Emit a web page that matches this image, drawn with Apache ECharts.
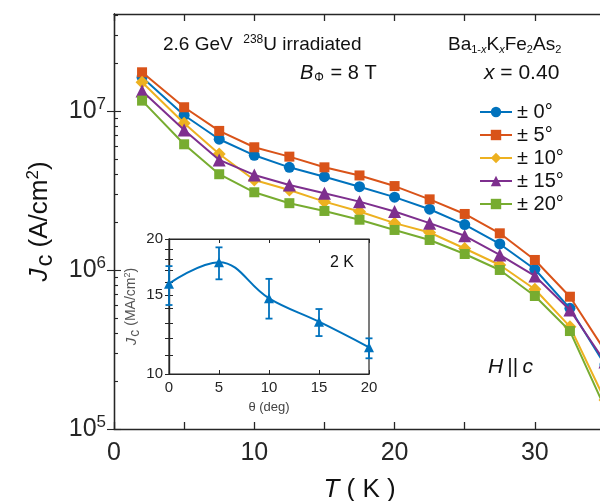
<!DOCTYPE html>
<html><head><meta charset="utf-8">
<script src="https://cdn.jsdelivr.net/npm/echarts@6/dist/echarts.min.js"></script>
<style>html,body{margin:0;padding:0;background:#fff}#c{width:600px;height:501px}</style>
</head><body><div id="c"></div>
<script>
// ---- data ----
const T = [2, 5, 7.5, 10, 12.5, 15, 17.5, 20, 22.5, 25, 27.5, 30, 32.5, 35];
const JC_0  = [1.63e7, 9.4e6, 6.64e6, 5.26e6, 4.42e6, 3.86e6, 3.34e6, 2.87e6, 2.41e6, 1.93e6, 1.457e6, 1.01e6, 5.74e5, 2.53e5];
const JC_5  = [1.75e7, 1.055e7, 7.49e6, 5.91e6, 5.16e6, 4.42e6, 3.93e6, 3.37e6, 2.78e6, 2.25e6, 1.70e6, 1.156e6, 6.79e5, 3.10e5];
const JC_10 = [1.515e7, 8.37e6, 5.36e6, 3.68e6, 3.18e6, 2.69e6, 2.33e6, 1.97e6, 1.72e6, 1.365e6, 1.075e6, 7.56e5, 4.40e5, 1.52e5];
const JC_15 = [1.336e7, 7.59e6, 4.92e6, 3.96e6, 3.42e6, 3.04e6, 2.69e6, 2.33e6, 1.97e6, 1.64e6, 1.243e6, 9.17e5, 5.60e5, 2.64e5];
const JC_20 = [1.161e7, 6.17e6, 4.0e6, 3.08e6, 2.63e6, 2.35e6, 2.07e6, 1.785e6, 1.544e6, 1.26e6, 1.0e6, 6.86e5, 4.13e5, 1.355e5];
const SERIES_NAMES = ['± 0°', '± 5°', '± 10°', '± 15°', '± 20°'];
const X_LABELS = [0, 10, 20, 30];
const Y_MAJOR = [1e5, 1e6, 1e7];
const Y_MINOR = [2e5, 3e5, 4e5, 5e5, 6e5, 7e5, 8e5, 9e5, 2e6, 3e6, 4e6, 5e6, 6e6, 7e6, 8e6, 9e6, 2e7, 3e7, 4e7];

const INSET_THETA = [0, 5, 10, 15, 20];
const INSET_JC = [15.9, 17.75, 14.75, 13.08, 11.47];
const INSET_ERR_LOW = [14.25, 16.26, 13.29, 12.15, 10.84];
const INSET_ERR_HIGH = [17.4, 19.16, 16.3, 13.96, 12.01];
const INSET_Y_LABELS = [10, 15, 20];
const INSET_Y_TICKS = [10, 11, 12, 13, 14, 15, 16, 17, 18, 19, 20];

// ---- style ----
const FONT = 'Liberation Sans, Arial, Helvetica, sans-serif';
const AX = '#262626';
const COLORS = ['#0072BD', '#D95319', '#EDB120', '#7E2F8E', '#77AC30'];
const SYMBOLS = ['circle', 'rect', 'diamond', 'triangle', 'rect'];
const SYM_SIZE = [11, 10, 13, 13, 10];
const ALL = [JC_0, JC_5, JC_10, JC_15, JC_20];

const chart = echarts.init(document.getElementById('c'), null, {renderer: 'canvas'});

function xAxisMain(pos) {
  return {
    type: 'value', gridIndex: 0, position: pos, min: 0, max: 35, interval: 5,
    axisLine: {show: true, onZero: false, lineStyle: {color: AX, width: 1.3}},
    axisTick: {show: true, inside: true, length: 7, lineStyle: {color: AX, width: 1.3}},
    axisLabel: {show: pos === 'bottom', fontSize: 25, fontFamily: FONT, color: AX, margin: 12,
      formatter: v => X_LABELS.indexOf(v) >= 0 ? String(v) : ''},
    splitLine: {show: false},
    name: pos === 'bottom' ? '{i|T} ( K )' : '', nameLocation: 'middle', nameGap: 48,
    nameTextStyle: {fontSize: 26, fontFamily: FONT, color: '#111', rich: {i: {fontSize: 26, fontStyle: 'italic', fontFamily: FONT}}}
  };
}
function yAxisMain(pos, ticks, len, labels) {
  return {
    type: 'log', logBase: 10, gridIndex: 0, position: pos, min: 1e5, max: 4.07e7,
    axisLine: {show: true, lineStyle: {color: AX, width: 1.3}},
    axisTick: {show: true, inside: true, length: len, customValues: ticks, lineStyle: {color: AX, width: 1.1}},
    axisLabel: {show: labels, customValues: Y_MAJOR, margin: 8, fontFamily: FONT, color: AX,
      formatter: v => '{b|10}{s|' + Math.round(Math.log10(v)) + '}',
      rich: {b: {fontSize: 25, fontFamily: FONT, color: AX}, s: {fontSize: 17, fontFamily: FONT, color: AX, padding: [0, 0, 14, 0]}}},
    splitLine: {show: false},
    name: labels ? '{i|J}{sub|c} (A/cm{sup|2})' : '', nameLocation: 'middle', nameGap: 52, nameRotate: 90,
    nameTextStyle: {fontSize: 26, fontFamily: FONT, color: '#111',
      rich: {i: {fontSize: 26, fontStyle: 'italic', fontFamily: FONT, color: '#111'},
             sub: {fontSize: 24, fontFamily: FONT, color: '#111', padding: [12, 0, 0, 2]},
             sup: {fontSize: 17, fontFamily: FONT, color: '#111', padding: [0, 0, 14, 0]}}}
  };
}

const mainSeries = ALL.map((arr, k) => ({
  name: SERIES_NAMES[k], type: 'line', xAxisIndex: 0, yAxisIndex: 0,
  data: T.map((t, i) => [t, arr[i]]),
  symbol: SYMBOLS[k], symbolSize: SYM_SIZE[k],
  lineStyle: {color: COLORS[k], width: 2}, itemStyle: {color: COLORS[k]},
  z: 3 + k, animation: false
}));

const option = {
  backgroundColor: '#fff',
  animation: false,
  grid: [
    {left: 114, top: 14, width: 491, height: 415, containLabel: false, outerBoundsMode: 'none'},
    {left: 169, top: 239, width: 200, height: 135, show: true, backgroundColor: '#fff', borderColor: AX, borderWidth: 1.2, z: 10, outerBoundsMode: 'none'}
  ],
  xAxis: [
    xAxisMain('bottom'), xAxisMain('top'),
    {type: 'value', gridIndex: 1, position: 'bottom', min: 0, max: 20, interval: 5, z: 11,
     axisLine: {show: true, onZero: false, lineStyle: {color: AX, width: 1.2}},
     axisTick: {show: true, inside: true, length: 4, lineStyle: {color: AX}},
     axisLabel: {fontSize: 15, fontFamily: FONT, color: AX, margin: 6},
     splitLine: {show: false},
     name: 'θ (deg)', nameLocation: 'middle', nameGap: 27,
     nameTextStyle: {fontSize: 13, fontFamily: FONT, color: '#444'}},
    {type: 'value', gridIndex: 1, position: 'top', min: 0, max: 20, interval: 5, z: 11,
     axisLine: {show: true, onZero: false, lineStyle: {color: AX, width: 1.2}},
     axisTick: {show: true, inside: true, length: 4, lineStyle: {color: AX}},
     axisLabel: {show: false}, splitLine: {show: false}}
  ],
  yAxis: [
    yAxisMain('left', Y_MAJOR, 7, true),
    yAxisMain('right', Y_MAJOR, 7, false),
    Object.assign(yAxisMain('left', Y_MINOR, 4, false), {axisLine: {show: false}}),
    Object.assign(yAxisMain('right', Y_MINOR, 4, false), {axisLine: {show: false}}),
    {type: 'log', logBase: 10, gridIndex: 1, position: 'left', min: 10, max: 20, z: 11,
     axisLine: {show: true, lineStyle: {color: AX, width: 1.2}},
     axisTick: {show: true, inside: true, length: 4, customValues: INSET_Y_TICKS, lineStyle: {color: AX}},
     axisLabel: {customValues: INSET_Y_LABELS, fontSize: 15, fontFamily: FONT, color: AX, margin: 6},
     splitLine: {show: false},
     name: '{i|J}{sub|c} (MA/cm{sup|2})', nameLocation: 'middle', nameGap: 27, nameRotate: 90,
     nameTextStyle: {fontSize: 14, fontFamily: FONT, color: '#555',
       rich: {i: {fontSize: 15, fontStyle: 'italic', fontFamily: FONT, color: '#555'},
              sub: {fontSize: 14, fontFamily: FONT, color: '#555', padding: [7, 0, 0, 1]},
              sup: {fontSize: 9, fontFamily: FONT, color: '#555', padding: [0, 0, 8, 0]}}}},
    {type: 'log', logBase: 10, gridIndex: 1, position: 'right', min: 10, max: 20, z: 11,
     axisLine: {show: true, lineStyle: {color: AX, width: 1.2}},
     axisTick: {show: true, inside: true, length: 4, customValues: INSET_Y_TICKS, lineStyle: {color: AX}},
     axisLabel: {show: false}, splitLine: {show: false}}
  ],
  legend: {
    data: SERIES_NAMES, orient: 'vertical', left: 474, top: 97,
    itemWidth: 32, itemHeight: 13, itemGap: 3,
    textStyle: {fontSize: 20, fontFamily: FONT, color: '#111', lineHeight: 20}
  },
  series: mainSeries.concat([
    {type: 'line', xAxisIndex: 2, yAxisIndex: 4, data: INSET_THETA.map((t, i) => [t, INSET_JC[i]]),
     smooth: 0.4, symbol: 'triangle', symbolSize: 10, z: 12,
     lineStyle: {color: '#0072BD', width: 2}, itemStyle: {color: '#0072BD'}},
    {type: 'custom', xAxisIndex: 2, yAxisIndex: 4, z: 12,
     data: INSET_THETA.map((t, i) => [t, INSET_ERR_LOW[i], INSET_ERR_HIGH[i]]),
     renderItem: function (params, api) {
       const x = api.value(0);
       const lo = api.coord([x, api.value(1)]);
       const hi = api.coord([x, api.value(2)]);
       const st = {stroke: '#0072BD', lineWidth: 1.8};
       return {type: 'group', children: [
         {type: 'line', shape: {x1: lo[0], y1: lo[1], x2: hi[0], y2: hi[1]}, style: st},
         {type: 'line', shape: {x1: lo[0] - 3.5, y1: lo[1], x2: lo[0] + 3.5, y2: lo[1]}, style: st},
         {type: 'line', shape: {x1: hi[0] - 3.5, y1: hi[1], x2: hi[0] + 3.5, y2: hi[1]}, style: st}
       ]};
     }}
  ]),
  graphic: [
    {type: 'text', x: 163, y: 45, z: 20, style: {text: '2.6 GeV  {sup|238}U irradiated', fontSize: 19, fontFamily: FONT, fill: '#111',
      verticalAlign: 'middle', rich: {sup: {fontSize: 12, fontFamily: FONT, fill: '#111', padding: [0, 0, 10, 0]}}}},
    {type: 'text', x: 300, y: 73, z: 20, style: {text: '{i|B}{sub|Φ} = 8 T', fontSize: 20, fontFamily: FONT, fill: '#111',
      verticalAlign: 'middle', rich: {i: {fontSize: 20, fontStyle: 'italic', fontFamily: FONT, fill: '#111'},
                                       sub: {fontSize: 12, fontFamily: FONT, fill: '#111', padding: [9, 1, 0, 1]}}}},
    {type: 'text', x: 448, y: 45, z: 20, style: {text: 'Ba{s|1-}{si|x}K{si|x}Fe{s|2}As{s|2}', fontSize: 19, fontFamily: FONT, fill: '#111',
      verticalAlign: 'middle', rich: {s: {fontSize: 11, fontFamily: FONT, fill: '#111', padding: [9, 0, 0, 0]},
                                       si: {fontSize: 11, fontStyle: 'italic', fontFamily: FONT, fill: '#111', padding: [9, 0, 0, 0]}}}},
    {type: 'text', x: 484, y: 73, z: 20, style: {text: '{i|x} = 0.40', fontSize: 21, fontFamily: FONT, fill: '#111',
      verticalAlign: 'middle', rich: {i: {fontSize: 21, fontStyle: 'italic', fontFamily: FONT, fill: '#111'}}}},
    {type: 'text', x: 488, y: 367, z: 20, style: {text: '{i|H}\u2009||\u2009{i|c}', fontSize: 21, fontFamily: FONT, fill: '#111',
      verticalAlign: 'middle', rich: {i: {fontSize: 21, fontStyle: 'italic', fontFamily: FONT, fill: '#111'}}}},
    {type: 'text', x: 330, y: 263, z: 20, style: {text: '2 K', fontSize: 16, fontFamily: FONT, fill: '#111', verticalAlign: 'middle'}}
  ]
};
option.yAxis[2].gridIndex = 0; option.yAxis[3].gridIndex = 0;
chart.setOption(option);
</script></body></html>
